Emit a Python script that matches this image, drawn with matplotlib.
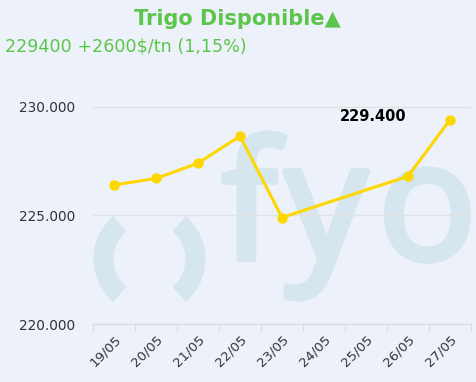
'''
Trigo Disponible - precio diario ($/tn)
'''
import matplotlib
matplotlib.use('Agg')
import matplotlib.pyplot as plt
import matplotlib.patheffects as pe
from matplotlib.patches import Wedge
from matplotlib.ticker import FuncFormatter, FixedLocator

# Data
fechas = ['19/05', '20/05', '21/05', '22/05', '23/05', '24/05', '25/05', '26/05', '27/05']
precios = [226400, 226700, 227400, 228650, 224900, None, None, 226800, 229400]
titulo = 'Trigo Disponible\u25b2'
subtitulo = '229400 +2600$/tn (1,15%)'

BG = '#edf1f9'
GREEN = '#5cc54c'
GOLD = '#ffd700'
WM = '#d5e6ef'
W, H = 477, 382

fig = plt.figure(figsize=(W / 100, H / 100), dpi=100, facecolor=BG)

# Background layer in pixel coords for the watermark
bg = fig.add_axes([0, 0, 1, 1], zorder=0)
bg.set_xlim(0, W)
bg.set_ylim(H, 0)
bg.axis('off')
for a1, a2 in [(130, 230), (-50, 50)]:
    bg.add_patch(Wedge((149.5, 259), 56, a1, a2, width=20, facecolor=WM, edgecolor='none'))
stroke = [pe.withStroke(linewidth=4.5, foreground=WM)]
for letra, x in [('f', 222), ('y', 285), ('o', 378)]:
    bg.text(x, 259, letra, fontsize=118, family='Open Sans', color=WM,
            ha='left', va='baseline', path_effects=stroke, clip_on=True)

# Main chart
ax = fig.add_axes([93 / W, (H - 324) / H, 378 / W, 239 / H], zorder=1)
ax.set_facecolor('none')

xs = [i for i, v in enumerate(precios) if v is not None]
ys = [v for v in precios if v is not None]
ax.plot(xs, ys, color=GOLD, linewidth=2.2, marker='o', markersize=6.5, zorder=3)

# Label on last point
ax.annotate(f'{ys[-1]:,}'.replace(',', '.'), (xs[-1], ys[-1]), xytext=(-43, 3),
            textcoords='offset pixels', ha='right', va='center',
            fontsize=10.5, fontweight='bold', color='black')

ax.set_xlim(-0.5, len(fechas) - 0.5)
ax.set_ylim(220000, 231000)
ax.yaxis.set_major_locator(FixedLocator([220000, 225000, 230000]))
ax.yaxis.set_major_formatter(FuncFormatter(lambda v, _: f'{int(v):,}'.replace(',', '.')))
ax.grid(axis='y', color='#e2e2e2', linewidth=1)
ax.set_axisbelow(True)

ax.set_xticks(range(len(fechas)))
ax.set_xticklabels(fechas, rotation=45, ha='right', rotation_mode='anchor')
ax.set_xticks([i - 0.5 for i in range(len(fechas) + 1)], minor=True)
ax.tick_params(axis='x', which='major', length=0, pad=6, labelsize=9.5, colors='#333333')
ax.tick_params(axis='x', which='minor', length=6, color='#d8d8d8')
ax.tick_params(axis='y', length=0, pad=13, labelsize=9.8, colors='#333333')

for s in ['top', 'right', 'left']:
    ax.spines[s].set_visible(False)
ax.spines['bottom'].set_color('#d8d8d8')

# Titles
fig.text(237 / W, 1 - 19 / H, titulo, ha='center', va='center',
         fontsize=15, fontweight='bold', color=GREEN)
fig.text(5 / W, 1 - 46 / H, subtitulo, ha='left', va='center',
         fontsize=12.6, color=GREEN)

fig.savefig('out.png', dpi=100, facecolor=BG)
